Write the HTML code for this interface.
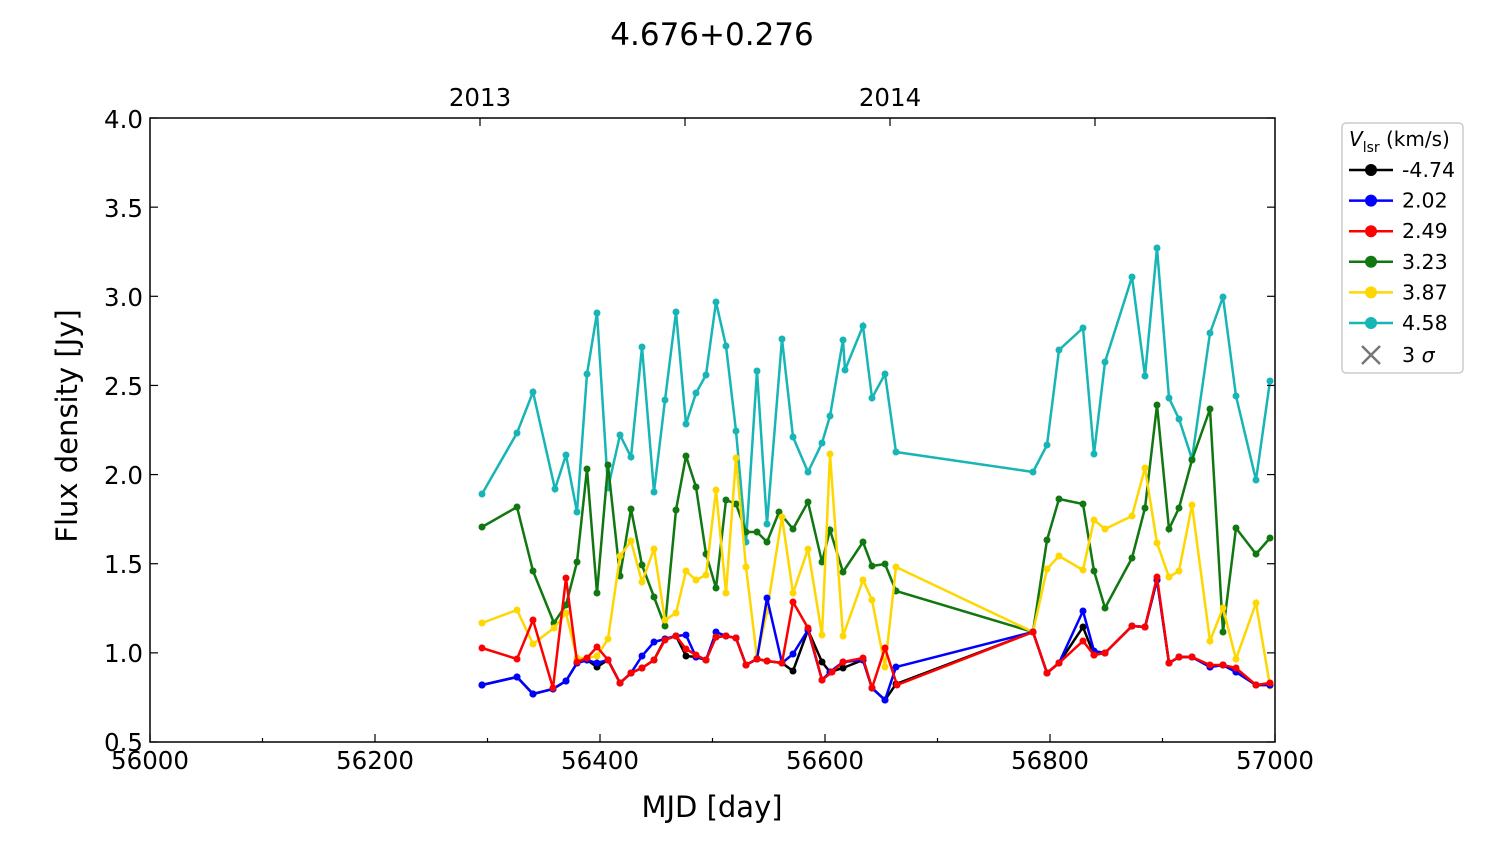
<!DOCTYPE html>
<html><head><meta charset="utf-8"><style>
html,body{margin:0;padding:0;background:#fff;}
svg{display:block;font-family:"DejaVu Sans","Liberation Sans",sans-serif;}
</style></head><body>
<svg id="s" width="1500" height="844" viewBox="0 0 1500 844" xmlns="http://www.w3.org/2000/svg">
<rect width="1500" height="844" fill="#fff"/>
<text x="712" y="45" font-size="31" text-anchor="middle">4.676+0.276</text>
<g id="data"></g>
<rect x="150" y="118" width="1125" height="624" fill="none" stroke="#000" stroke-width="1.5"/>
<g id="ticks" stroke="#000" stroke-width="1.2"></g>
<g font-size="24.5" text-anchor="middle">
<text x="150" y="769">56000</text><text x="375" y="769">56200</text><text x="600" y="769">56400</text>
<text x="825" y="769">56600</text><text x="1050" y="769">56800</text><text x="1275" y="769">57000</text>
<text x="480" y="106">2013</text><text x="890" y="106">2014</text>
</g>
<g font-size="24.5" text-anchor="end">
<text x="143" y="751">0.5</text><text x="143" y="662">1.0</text><text x="143" y="573">1.5</text>
<text x="143" y="484">2.0</text><text x="143" y="395">2.5</text><text x="143" y="306">3.0</text>
<text x="143" y="217">3.5</text><text x="143" y="128">4.0</text>
</g>
<text x="712" y="817" font-size="29" text-anchor="middle">MJD [day]</text>
<text transform="translate(77,426) rotate(-90)" font-size="29" text-anchor="middle">Flux density [Jy]</text>
<rect x="1342" y="123" width="121" height="250" rx="4" fill="#fff" stroke="#ccc" stroke-width="1.5"/>
<text x="1349" y="146" font-size="20"><tspan font-style="italic">V</tspan><tspan font-size="14" dy="6">lsr</tspan><tspan dy="-6"> (km/s)</tspan></text>
<g id="leg" font-size="20.5"></g>
</svg>
<script>
const S={
k:[[482,685],[517,677],[533,694],[553,689],[566,681],[577,663],[587,660],[597,667],[608,660],[620,683],[631,673],[642,668],[654,660],[665,639],[676,636],[686,656],[696,657],[706,660],[716,637],[726,636],[736,638],[746,665],[757,659],[767,661],[782,663],[793,671],[808,630],[822,662],[830,672],[843,668],[863,660],[872,688],[885,700],[896,684],[1033,632],[1047,673],[1059,663],[1083,627],[1094,655],[1105,653],[1132,626],[1145,627],[1157,580],[1169,663],[1179,657],[1192,657],[1210,667],[1223,665],[1236,672],[1256,685],[1270,685]],
b:[[482,685],[517,677],[533,694],[553,689],[566,681],[577,663],[587,660],[597,663],[608,660],[620,683],[631,673],[642,656],[654,642],[665,639],[676,636],[686,635],[696,657],[706,660],[716,632],[726,636],[736,638],[746,665],[757,659],[767,598],[782,663],[793,654],[808,630],[822,680],[830,672],[843,662],[863,660],[872,688],[885,700],[896,667],[1033,632],[1047,673],[1059,663],[1083,611],[1094,651],[1105,653],[1132,626],[1145,627],[1157,580],[1169,663],[1179,657],[1192,657],[1210,667],[1223,665],[1236,672],[1256,685],[1270,685]],
r:[[482,648],[517,659],[533,620],[553,688],[566,578],[577,662],[587,658],[597,647],[608,660],[620,683],[631,673],[642,668],[654,660],[665,640],[676,636],[686,649],[696,655],[706,660],[716,637],[726,636],[736,638],[746,665],[757,659],[767,661],[782,663],[793,602],[808,628],[822,680],[832,672],[843,662],[863,658],[872,688],[885,648],[897,685],[1033,632],[1047,673],[1059,663],[1083,641],[1094,655],[1105,653],[1132,626],[1145,627],[1157,577],[1169,663],[1179,657],[1192,657],[1210,665],[1223,665],[1236,668],[1256,685],[1270,683]],
g:[[482,527],[517,507],[533,571],[554,623],[566,605],[577,562],[587,469],[597,593],[608,465],[620,576],[631,509],[642,565],[654,597],[665,626],[676,510],[686,456],[696,487],[706,554],[716,588],[726,500],[736,504],[746,532],[757,532],[767,542],[779,512],[793,529],[808,502],[822,562],[830,530],[843,572],[863,542],[872,566],[885,564],[896,591],[1033,632],[1047,540],[1059,499],[1083,504],[1094,571],[1105,608],[1132,558],[1145,508],[1157,405],[1169,529],[1179,508],[1192,460],[1210,409],[1223,632],[1236,528],[1256,554],[1270,538]],
y:[[482,623],[517,610],[533,644],[554,628],[566,613],[577,658],[587,658],[597,656],[608,639],[620,556],[631,541],[642,582],[654,549],[665,620],[676,613],[686,571],[696,580],[706,575],[716,490],[726,593],[736,458],[746,567],[757,658],[767,611],[782,517],[793,593],[808,549],[822,635],[830,454],[843,636],[863,580],[872,600],[885,667],[896,567],[1033,632],[1047,569],[1059,556],[1083,570],[1094,520],[1105,529],[1132,516],[1145,468],[1157,543],[1169,577],[1179,571],[1192,505],[1210,641],[1223,608],[1236,659],[1256,603],[1270,686]],
c:[[482,494],[517,433],[533,392],[555,489],[566,455],[577,512],[587,374],[597,313],[608,488],[620,435],[631,457],[642,347],[654,492],[665,400],[676,312],[686,424],[696,393],[706,375],[716,302],[726,346],[736,431],[746,542],[757,371],[767,524],[782,339],[793,437],[808,472],[822,443],[830,416],[843,340],[845,370],[863,326],[872,398],[885,374],[896,452],[1033,472],[1047,445],[1059,350],[1083,328],[1094,454],[1105,362],[1132,277],[1145,376],[1157,248],[1169,398],[1179,419],[1192,459],[1210,333],[1223,297],[1236,396],[1256,480],[1270,381]]};
const col={k:"#000",b:"#0000ff",r:"#ff0000",g:"#117711",y:"#ffd700",c:"#17b5b5"};
let h="";
for(const k of ["c","g","y","k","b","r"]){
 const p=S[k];
 h+=`<polyline points="${p.map(q=>q.join(",")).join(" ")}" fill="none" stroke="${col[k]}" stroke-width="2.5"/>`;
 for(const q of p)h+=`<circle cx="${q[0]}" cy="${q[1]}" r="3.5" fill="${col[k]}"/>`;
}
document.getElementById("data").innerHTML=h;
let t="";
for(let i=0;i<=10;i++){const x=150+i*112.5,l=i%2?4:8;t+=`<line x1="${x}" y1="742" x2="${x}" y2="${742-l}"/>`;}
for(const x of [480,685,890,1095])t+=`<line x1="${x}" y1="118" x2="${x}" y2="126"/>`;
for(let i=0;i<=7;i++){const y=742-i*89.14;t+=`<line x1="150" y1="${y}" x2="158" y2="${y}"/><line x1="1275" y1="${y}" x2="1267" y2="${y}"/>`;}
document.getElementById("ticks").innerHTML=t;
const L=[["k","-4.74"],["b","2.02"],["r","2.49"],["g","3.23"],["y","3.87"],["c","4.58"]];
let g="";
L.forEach((e,i)=>{const y=170+i*30.6;g+=`<line x1="1349" y1="${y}" x2="1393" y2="${y}" stroke="${col[e[0]]}" stroke-width="2.5"/><circle cx="1371" cy="${y}" r="6" fill="${col[e[0]]}"/><text x="1402" y="${y+7}">${e[1]}</text>`;});
g+=`<path d="M1362 346 L1380 364 M1380 346 L1362 364" stroke="#777" stroke-width="2.5"/><text x="1402" y="362">3 <tspan font-style="italic">σ</tspan></text>`;
document.getElementById("leg").innerHTML=g;
</script>
</body></html>
